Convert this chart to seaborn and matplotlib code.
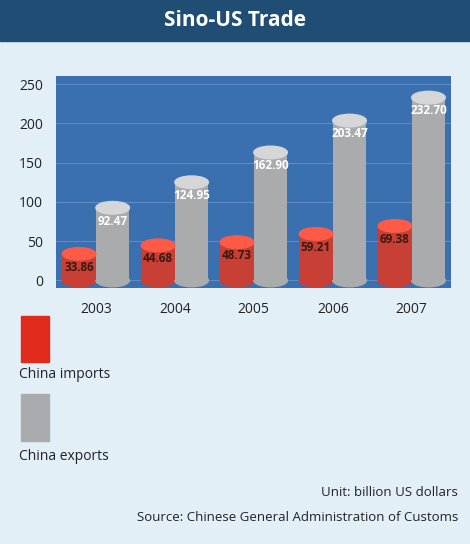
import matplotlib.pyplot as plt
import matplotlib.patches as mpatches
import pandas as pd
import seaborn as sns

years = ["2003", "2004", "2005", "2006", "2007"]
imports = [33.86, 44.68, 48.73, 59.21, 69.38]
exports = [92.47, 124.95, 162.90, 203.47, 232.70]
yticks = [0, 50, 100, 150, 200, 250]

sns.set_theme(style="white")
plt.rcParams['font.family'] = ['Open Sans', 'DejaVu Sans']

df = pd.DataFrame({
    "Year": years * 2,
    "Value": imports + exports,
    "Type": ["China imports"] * 5 + ["China exports"] * 5,
})

bg = "#e3eff6"
fig = plt.figure(figsize=(4.7, 5.44), dpi=100, facecolor=bg)
fig.patches.append(mpatches.Rectangle((0, 0.925), 1, 0.075, transform=fig.transFigure,
                                      color="#1f4d73", zorder=0))
fig.text(0.5, 0.962, "Sino-US Trade", ha="center", va="center", color="white",
         fontsize=15, fontweight="bold")

ax = fig.add_axes([0.12, 0.47, 0.84, 0.39])
ax.set_facecolor("#3a6fb0")
sns.barplot(data=df, x="Year", y="Value", hue="Type", ax=ax,
            palette={"China imports": "#e02a1c", "China exports": "#a9abae"},
            width=0.85, edgecolor="none", legend=False, zorder=2)

cap = {"China imports": "#ff5a45", "China exports": "#d4d6d8"}
for container, kind in zip(ax.containers, ["China imports", "China exports"]):
    for bar, val in zip(container, container.datavalues):
        x0, w, h = bar.get_x(), bar.get_width(), bar.get_height()
        ax.add_patch(mpatches.Ellipse((x0 + w / 2, h), w, 16, color=cap[kind], zorder=3))
        ax.add_patch(mpatches.Ellipse((x0 + w / 2, 0), w, 16, color=bar.get_facecolor(), zorder=1.9))
        ax.text(x0 + w / 2, h - 17, f"{val:.2f}", ha="center", va="center", zorder=4,
                fontsize=8.5, fontweight="bold",
                color="#3a1a10" if kind == "China imports" else "white")

ax.set_ylim(-10, 260)
ax.set_yticks(yticks)
ax.set_xlabel("")
ax.set_ylabel("")
ax.tick_params(labelsize=10, colors="#222222")
ax.grid(axis="y", color="#5f8cc4", linewidth=0.8, zorder=0)
ax.set_axisbelow(True)
for s in ax.spines.values():
    s.set_visible(False)

fig.patches.append(mpatches.Rectangle((0.045, 0.335), 0.06, 0.085, transform=fig.transFigure,
                                      color="#e02a1c"))
fig.text(0.04, 0.305, "China imports", fontsize=10, color="#222222")
fig.patches.append(mpatches.Rectangle((0.045, 0.19), 0.06, 0.085, transform=fig.transFigure,
                                      color="#a9abae"))
fig.text(0.04, 0.155, "China exports", fontsize=10, color="#222222")

fig.text(0.975, 0.088, "Unit: billion US dollars", ha="right", fontsize=9.5, color="#222222")
fig.text(0.975, 0.043, "Source: Chinese General Administration of Customs", ha="right",
         fontsize=9.5, color="#222222")

fig.savefig("out.png", dpi=100, facecolor=bg)
